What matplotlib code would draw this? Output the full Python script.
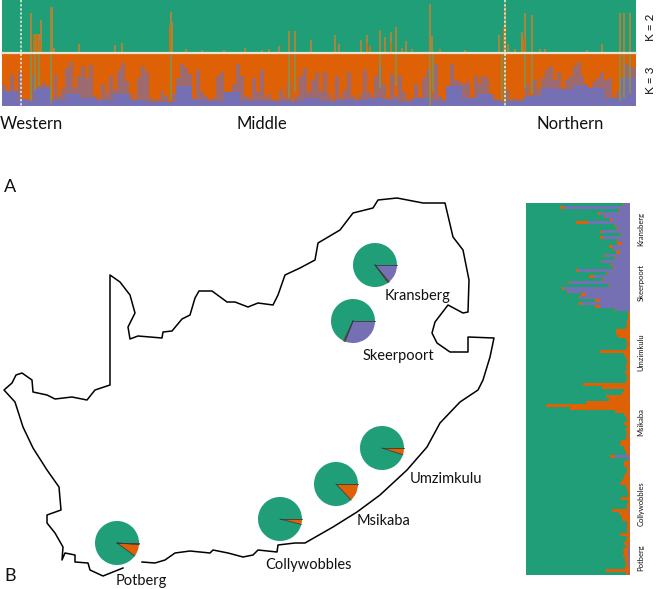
import matplotlib
matplotlib.use('Agg')
import matplotlib.pyplot as plt
import numpy as np

W, H = 656, 589
GREEN = '#1f9e78'
ORANGE = '#de6205'
PURPLE = '#7570b3'
OLIVE = '#8f8a45'
plt.rcParams['font.family'] = ['Lato', 'DejaVu Sans']

# K = 2 strip, height of the spikes coming up from the bottom of the panel
k2_spike_x = [29, 33, 37, 39, 49, 50, 52, 77, 113, 120, 169, 170, 184, 200, 222, 243, 260, 267, 277, 287, 293, 309,
              333, 337, 359, 365, 378, 383, 389, 394, 400, 404, 410, 428, 430, 438, 463,
              497, 502, 503, 506, 513, 520, 523, 530, 538, 543, 585, 600, 618, 622, 628]
k2_spike_h = [39, 18, 18, 32, 45, 45, 4, 8, 7, 9, 40, 30, 3, 2, 2, 4, 2, 3, 6, 21, 21, 12,
              17, 8, 12, 17, 22, 15, 20, 25, 4, 11, 3, 48, 16, 3, 2,
              17, 25, 47, 8, 3, 20, 39, 37, 3, 3, 2, 8, 39, 39, 39]
k2_core_x = [32, 35, 38, 168, 365, 368, 389, 502, 522]
k2_core_h = [17, 18, 10, 26, 10, 6, 10, 24, 14]

# K = 3 strip, one value per 4 px column
k3_purple = [21, 10, 31, 12, 34, 8, 6, 30, 12, 20, 23, 20, 8, 32, 10, 17, 38, 44, 18, 30,
             40, 28, 41, 10, 5, 22, 12, 30, 16, 36, 43, 25, 12, 6, 28, 40, 34, 8, 5, 7,
             15, 10, 4, 12, 28, 42, 38, 32, 8, 36, 14, 10, 6, 8, 30, 34, 12, 6, 22, 42,
             30, 10, 8, 28, 14, 36, 8, 12, 6, 5, 16, 8, 24, 5, 10, 30, 38, 14, 26, 33,
             15, 34, 12, 5, 30, 8, 16, 34, 10, 6, 12, 36, 14, 6, 30, 40, 22, 8, 32, 10,
             30, 14, 6, 8, 22, 6, 28, 36, 12, 42, 10, 6, 12, 42, 26, 24, 22, 24, 8, 30,
             22, 30, 28, 10, 8, 6, 5, 16, 6, 8, 5, 8, 22, 10, 26, 16, 28, 36, 40, 26,
             34, 18, 26, 30, 40, 44, 30, 22, 18, 24, 28, 34, 26, 28, 8, 14, 10, 42, 40, 38]
k3_base = [15, 6, 18, 6, 12, 8, 6, 12, 6, 4,
           4, 20, 6, 5, 14, 5, 5, 5, 5, 8,
           5, 6, 6, 8, 6, 4, 8, 5, 20, 8,
           12, 5, 5, 10, 18, 16, 20, 18, 8, 28]
k3_olive_x = [29, 33, 37, 49, 169, 287, 293, 378, 394, 428, 431, 500, 503, 523, 530, 618, 622, 628]
k3_olive_low = [5, 15, 20, 3, 6, 8, 14, 18, 20, 0, 15, 6, 2, 18, 12, 5, 8, 12]

# structure plot on the right, one row per 3 px, from top to bottom
struct_purple = [6, 66, 10, 30, 25, 18, 42, 14, 12, 28, 8, 27, 12, 8, 18, 16,
                 10, 25, 14, 28, 18, 16, 52, 22, 36, 26, 60, 20, 66, 62, 44, 50, 30, 48, 30, 14,
                 0, 0, 0, 0, 0, 0, 0, 0, 0, 0, 0, 0, 0, 0, 0, 0, 0, 0, 0, 0, 0, 0, 0, 0, 0,
                 1, 0, 0, 0, 1, 0, 0, 0, 0, 1, 0, 0, 0, 0, 0, 0, 1, 0, 0, 0, 1, 0, 0,
                 15, 1, 0, 1, 0, 0, 1, 0, 0, 1, 0, 0, 0, 0, 0, 0, 0, 0, 1, 1, 0, 0, 0, 0, 0, 1, 0, 0, 0, 1, 1,
                 1, 2, 2, 1, 2, 1, 1, 0, 1]
struct_orange = [1, 4, 1, 2, 1, 2, 12, 1, 1, 2, 1, 3, 1, 5, 3, 1,
                 4, 1, 1, 1, 1, 1, 2, 1, 5, 1, 1, 1, 2, 1, 5, 1, 5, 3, 5, 1,
                 2, 2, 2, 3, 3, 4, 14, 14, 12, 4, 3, 3, 4, 30, 6, 4, 3, 3, 4, 3, 5, 3, 3, 4, 47,
                 27, 6, 8, 24, 20, 44, 84, 60, 15, 5, 4, 3, 6, 3, 4, 3, 3, 4, 9, 10, 5, 5, 4,
                 5, 1, 6, 5, 3, 3, 4, 6, 8, 9, 4, 3, 2, 2, 9, 2, 3, 3, 17, 10, 8, 8, 3, 3, 3, 2, 10, 3, 4, 5, 3,
                 6, 4, 5, 4, 3, 3, 4, 24, 3]
struct_breaks = [252, 313, 387, 457, 549]
struct_names = ['Kransberg', 'Skeerpoort', 'Umzimkulu', 'Msikaba', 'Collywobbles', 'Potberg']
struct_name_y = [229, 282, 352, 422, 504, 558]

# sampling sites on the map
site_names = ['Kransberg', 'Skeerpoort', 'Umzimkulu', 'Msikaba', 'Collywobbles', 'Potberg']
site_x = [375, 353, 382, 336, 280, 117]
site_y = [265, 321, 448, 484, 519, 543]
site_purple = [14, 31, 0, 0, 0, 1]
site_orange = [1, 1, 5, 13, 4, 9]
label_x = [418, 398, 446, 384, 309, 141]
label_y = [296, 356, 479, 521, 565, 581]

# South Africa outline, in picture pixels
coast_x = [142, 155, 165, 175, 190, 210, 213, 228, 243, 253, 258, 277, 278, 295, 305, 333, 357, 380, 407, 427, 440,
           460, 478, 483, 490, 494, 468, 468, 450, 437, 432, 435, 448, 463, 468, 469, 463, 453, 445, 423, 397, 378,
           373, 353, 340, 318, 315, 300, 285, 278, 273, 258, 248, 235, 227, 212, 199, 195, 190, 182, 172, 163, 162,
           138, 130, 128, 135, 130, 120, 110, 110, 95, 87, 72, 55, 47, 33, 32, 22, 16, 12, 4, 15, 23, 33, 47, 59,
           61, 47, 47, 55, 63, 62, 65, 75, 75, 88, 90, 103, 123]
coast_y = [562, 563, 560, 553, 551, 553, 550, 553, 557, 555, 550, 552, 545, 543, 543, 527, 512, 495, 470, 447, 423,
           402, 390, 380, 357, 338, 337, 352, 352, 343, 333, 322, 305, 313, 312, 280, 250, 237, 203, 203, 198, 200,
           208, 213, 230, 243, 260, 268, 275, 295, 305, 303, 307, 302, 302, 291, 291, 298, 315, 319, 331, 332, 338,
           336, 339, 327, 313, 295, 282, 275, 385, 390, 400, 397, 399, 395, 392, 380, 373, 375, 383, 390, 402, 427,
           448, 470, 487, 510, 515, 523, 533, 547, 560, 553, 555, 562, 563, 570, 576, 568]


def panel(x0, y0, x1, y1):
    # axes from picture pixels
    a = fig.add_axes([x0 / W, 1 - y1 / H, (x1 - x0) / W, (y1 - y0) / H])
    a.set_xticks([])
    a.set_yticks([])
    for sp in a.spines.values():
        sp.set_visible(False)
    return a


fig = plt.figure(figsize=(W / 100, H / 100), dpi=100)

# map goes underneath and covers the whole figure
ax_map = fig.add_axes([0, 0, 1, 1])
ax_map.plot(coast_x, coast_y, color='black', lw=1.1)
for name, x, y, pur_v, ora_v, lx, ly in zip(site_names, site_x, site_y, site_purple, site_orange, label_x, label_y):
    sizes = [pur_v, ora_v, 100 - pur_v - ora_v]
    wedges, _ = ax_map.pie(sizes, colors=[PURPLE, ORANGE, GREEN], center=(x, y), radius=22, startangle=0,
                           frame=True, wedgeprops={'linewidth': 0})
    for w in wedges[:2]:
        if w.theta2 > w.theta1:
            for t in (w.theta1, w.theta2):
                ax_map.plot([x, x + 22 * np.cos(np.radians(t))], [y, y + 22 * np.sin(np.radians(t))],
                            color='#3a3a3a', lw=0.6)
    ax_map.text(lx, ly, name, fontsize=10.5, ha='center', va='center', color='#111111')
ax_map.set_xlim(0, W)
ax_map.set_ylim(H, 0)
ax_map.set_aspect('auto')
ax_map.axis('off')

# K = 2
ax2 = panel(2, 0, 636, 52)
ax2.set_facecolor(GREEN)
ax2.bar(k2_spike_x, k2_spike_h, width=1.6, color='#a8853f', linewidth=0)
ax2.bar(k2_core_x, k2_core_h, width=2.5, color='#c9720f', linewidth=0)
ax2.set_xlim(0, 634)
ax2.set_ylim(0, 52)

# K = 3
ax3 = panel(2, 54, 636, 106)
ax3.set_facecolor(ORANGE)
step = 634 / len(k3_purple)
xs = (np.arange(len(k3_purple)) + 0.5) * step
ax3.bar(xs, k3_purple, width=step, color=PURPLE, alpha=0.62, linewidth=0)
step_b = 634 / len(k3_base)
ax3.bar((np.arange(len(k3_base)) + 0.5) * step_b, k3_base, width=step_b, color=PURPLE, linewidth=0)
ax3.bar(k3_olive_x, np.array([52] * len(k3_olive_x)) - np.array(k3_olive_low), bottom=k3_olive_low, width=1.8,
        color=OLIVE, linewidth=0)
ax3.set_xlim(0, 634)
ax3.set_ylim(0, 52)

# divider and the group lines across both strips
ax_over = fig.add_axes([0, 0, 1, 1])
ax_over.patch.set_alpha(0)
ax_over.set_xlim(0, W)
ax_over.set_ylim(H, 0)
ax_over.axis('off')
ax_over.plot([2, 636], [53, 53], color='#e8e4d0', lw=1.6)
ax_over.plot([21, 21], [0, 106], color='#f0f0e0', lw=1.1, ls=(0, (1.5, 1.2)))
ax_over.plot([505, 505], [0, 106], color='#f0f0e0', lw=1.1, ls=(0, (1.5, 1.2)))

# structure plot
ax_s = panel(526, 203, 630, 575)
ax_s.set_facecolor(GREEN)
rows = np.arange(len(struct_purple))
pur = np.array(struct_purple)
ora = np.array(struct_orange)
ax_s.barh(rows, pur, left=104 - pur, height=1, color=PURPLE, linewidth=0)
ax_s.barh(rows, ora, left=104 - pur - ora, height=1, color=ORANGE, linewidth=0)
ax_s.set_xlim(0, 104)
ax_s.set_ylim(len(rows) - 0.5, -0.5)
for b in struct_breaks:
    ax_over.plot([526, 630], [b, b], color='white', lw=1.1, ls=(0, (4, 2.5)))
for name, y in zip(struct_names, struct_name_y):
    ax_over.text(641, y, name, fontsize=5.5, rotation=90, ha='center', va='center', color='#111111')

# labels
ax_over.text(31, 124, 'Western', fontsize=12, ha='center', va='center', color='#111111')
ax_over.text(262, 124, 'Middle', fontsize=12, ha='center', va='center', color='#111111')
ax_over.text(570, 124, 'Northern', fontsize=12, ha='center', va='center', color='#111111')
ax_over.text(651, 27, 'K = 2', fontsize=8.5, rotation=90, ha='center', va='center', color='#111111')
ax_over.text(651, 80, 'K = 3', fontsize=8.5, rotation=90, ha='center', va='center', color='#111111')
ax_over.text(4, 187, 'A', fontsize=13, ha='left', va='center', color='#111111')
ax_over.text(4, 576, 'B', fontsize=13, ha='left', va='center', color='#111111')

fig.savefig('out.png', dpi=100)
